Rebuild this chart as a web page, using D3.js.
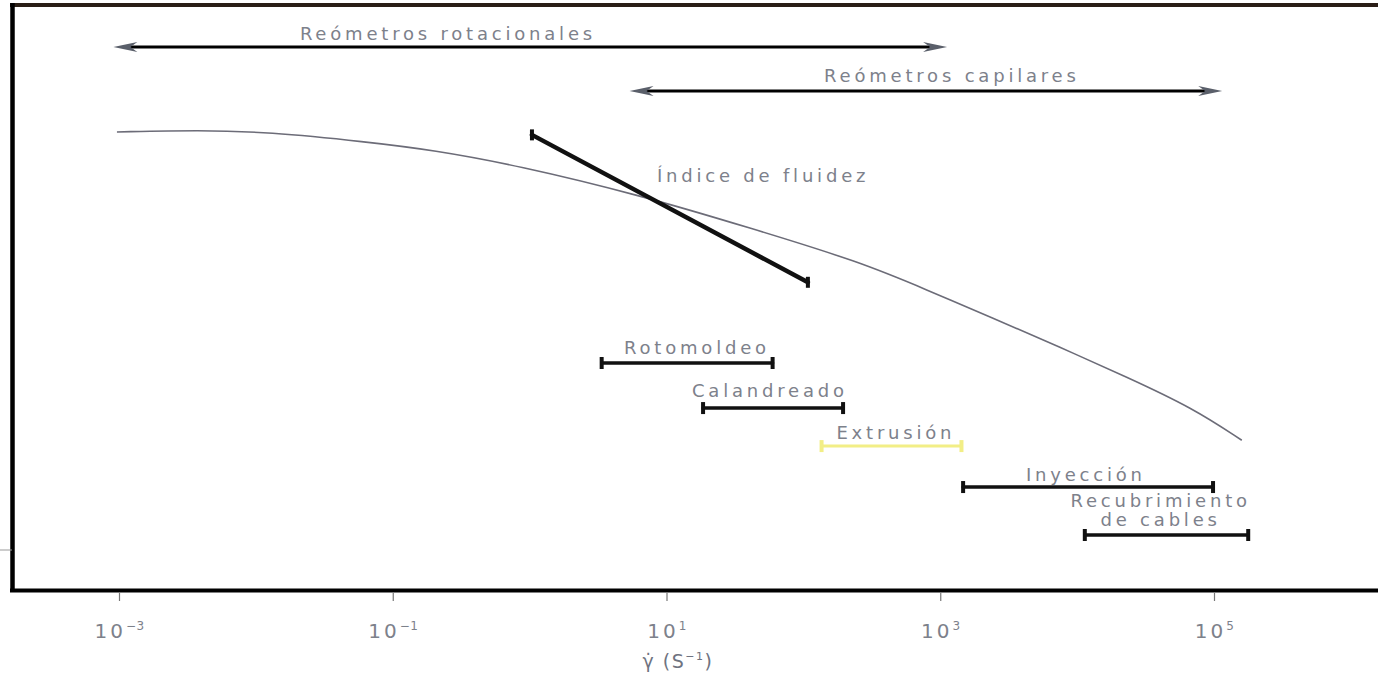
<!DOCTYPE html>
<html><head><meta charset="utf-8">
<script src="https://cdn.jsdelivr.net/npm/d3@7"></script>
<style>
html,body{margin:0;padding:0;background:#fff;}
svg{display:block;}
.lbl{font-family:"DejaVu Sans",sans-serif;font-size:18px;fill:#7d818b;letter-spacing:3.8px;}
.tick{font-family:"DejaVu Sans",sans-serif;font-size:20px;fill:#7d818b;letter-spacing:3px;}
.ttl{font-family:"DejaVu Sans",sans-serif;font-size:19px;fill:#6f7380;letter-spacing:1.5px;}
</style></head>
<body>
<script>
// ---- data (x: shear rate, s^-1, log scale; y: relative viscosity, arbitrary units 0-100) ----
const curveX = [0.000966, 0.00391, 0.0121, 0.0649, 0.197, 0.807, 6.40, 40.6, 259, 798, 2421, 7482, 23070, 69980, 159600];
const curveY = [78.3, 78.6, 78.3, 76.6, 75.2, 72.6, 67.5, 61.9, 56.1, 51.3, 46.5, 41.5, 36.4, 31.1, 25.6];

const rangeNames  = ["Reómetros rotacionales", "Reómetros capilares"];
const rangeFrom   = [0.00091, 5.37];
const rangeTo     = [1122, 114800];
const rangeY      = [92.8, 85.3];
const rangeLabelX = [0.253, 1216];
const rangeLabelY = [94.0, 86.8];

const fluidName = "Índice de fluidez";
const fluidX = [1.04, 107.9];
const fluidY = [77.8, 52.6];
const fluidLabelX = 8.51;
const fluidLabelY = 69.7;

const procNames  = [["Rotomoldeo"], ["Calandreado"], ["Extrusión"], ["Inyección"], ["Recubrimiento", "de cables"]];
const procFrom   = [3.36, 18.5, 135.8, 1469, 11380];
const procTo     = [59.6, 195, 1429, 98400, 177800];
const procY      = [38.8, 31.1, 24.6, 17.6, 9.4];
const procLabelX = [16.7, 56.9, 474, 11590, 40740];
const procLabelY = [40.3, 33.0, 25.8, 18.6, 14.2];
const procColor  = ["#111", "#111", "#f2ee86", "#111", "#111"];

const tickValues = [1e-3, 1e-1, 1e1, 1e3, 1e5];
const tickLabels = [["10","−3"], ["10","−1"], ["10","1"], ["10","3"], ["10","5"]];
const axisTitle = ["γ̇ (S", "−1", ")"];

// ---- chart ----
const W = 1378, H = 677;
const svg = d3.select("body").append("svg").attr("width", W).attr("height", H);
const x = d3.scaleLog().domain([1e-3, 1e5]).range([119, 1214]);
const y = d3.scaleLinear().domain([0, 100]).range([590, 5]);

// frame
svg.append("line").attr("x1", 10).attr("x2", W).attr("y1", 5).attr("y2", 5).attr("stroke", "#2a1e16").attr("stroke-width", 4);
svg.append("line").attr("x1", 12.5).attr("x2", 12.5).attr("y1", 3).attr("y2", 592).attr("stroke", "#000").attr("stroke-width", 4.5);
svg.append("line").attr("x1", 0).attr("x2", 12).attr("y1", 550).attr("y2", 550).attr("stroke", "#999").attr("stroke-width", 1);

// x axis
const xAxis = d3.axisBottom(x).tickValues(tickValues).tickSize(8).tickPadding(14).tickFormat(() => "");
const gx = svg.append("g").attr("transform", "translate(0,593)").call(xAxis);
gx.select(".domain").remove();
gx.selectAll(".tick line").attr("stroke", "#777").attr("stroke-width", 1.2);
gx.selectAll(".tick text").remove();
gx.selectAll(".tick").each(function(d, i) {
  const t = d3.select(this).append("text").attr("class", "tick").attr("text-anchor", "middle").attr("y", 45).attr("x", 0);
  t.append("tspan").text(tickLabels[i][0]);
  t.append("tspan").attr("dy", -8).attr("font-size", 12).attr("letter-spacing", 0.5).text(tickLabels[i][1]);
});
svg.append("line").attr("x1", 10).attr("x2", W).attr("y1", 590.5).attr("y2", 590.5).attr("stroke", "#000").attr("stroke-width", 4);

const at = svg.append("text").attr("class", "ttl").attr("text-anchor", "middle").attr("x", 678).attr("y", 668);
at.append("tspan").text(axisTitle[0]);
at.append("tspan").attr("dy", -8).attr("font-size", 11).text(axisTitle[1]);
at.append("tspan").attr("dy", 8).text(axisTitle[2]);

// viscosity curve
const pts = curveX.map((v, i) => [v, curveY[i]]);
svg.append("path").datum(pts)
  .attr("d", d3.line().x(d => x(d[0])).y(d => y(d[1])).curve(d3.curveBasis))
  .attr("fill", "none").attr("stroke", "#6c6c78").attr("stroke-width", 1.6);

// measurement ranges (double arrows)
function arrowHead(px, py, dir) {
  const L = 24, w = 5;
  return `M${px},${py} L${px - dir * L},${py - w} L${px - dir * (L - 7)},${py} L${px - dir * L},${py + w} Z`;
}
rangeNames.forEach((name, i) => {
  const x0 = x(rangeFrom[i]), x1 = x(rangeTo[i]), yy = y(rangeY[i]);
  svg.append("line").attr("x1", x0 + 12).attr("x2", x1 - 12).attr("y1", yy).attr("y2", yy).attr("stroke", "#000").attr("stroke-width", 3);
  svg.append("path").attr("d", arrowHead(x0, yy, -1)).attr("fill", "#5a5f6a");
  svg.append("path").attr("d", arrowHead(x1, yy, 1)).attr("fill", "#5a5f6a");
  svg.append("text").attr("class", "lbl").attr("text-anchor", "middle")
    .attr("x", x(rangeLabelX[i])).attr("y", y(rangeLabelY[i])).text(name);
});

// flow index segment
function capped(g, xa, ya, xb, yb, color, sw, capH, capW) {
  g.append("line").attr("x1", xa).attr("y1", ya).attr("x2", xb).attr("y2", yb).attr("stroke", color).attr("stroke-width", sw).attr("stroke-linecap", "round");
  [[xa, ya], [xb, yb]].forEach(p => {
    g.append("line").attr("x1", p[0]).attr("x2", p[0]).attr("y1", p[1] - capH / 2).attr("y2", p[1] + capH / 2)
      .attr("stroke", color).attr("stroke-width", capW);
  });
}
capped(svg, x(fluidX[0]), y(fluidY[0]), x(fluidX[1]), y(fluidY[1]), "#111", 4.5, 11, 4);
svg.append("text").attr("class", "lbl").attr("x", x(fluidLabelX)).attr("y", y(fluidLabelY)).text(fluidName);

// processing ranges
procNames.forEach((lines, i) => {
  const yy = y(procY[i]);
  capped(svg, x(procFrom[i]), yy, x(procTo[i]), yy, procColor[i], i === 2 ? 3 : 3.5, 12, 4);
  const t = svg.append("text").attr("class", "lbl").attr("text-anchor", "middle")
    .attr("x", x(procLabelX[i])).attr("y", y(procLabelY[i]));
  lines.forEach((ln, j) => t.append("tspan").attr("x", x(procLabelX[i])).attr("dy", j === 0 ? 0 : 19).text(ln));
});
</script>
</body></html>
